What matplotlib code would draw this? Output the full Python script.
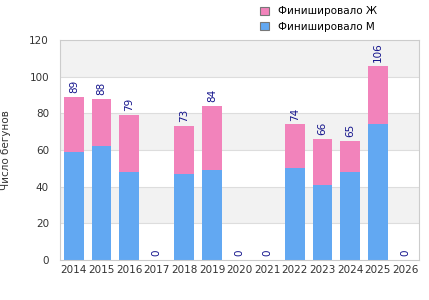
import matplotlib
matplotlib.use("Agg")
import matplotlib.pyplot as plt
from matplotlib.patches import Patch
import numpy as np

years = ["2014", "2015", "2016", "2017", "2018", "2019", "2020", "2021", "2022", "2023", "2024", "2025", "2026"]
men = [59, 62, 48, 0, 47, 49, 0, 0, 50, 41, 48, 74, 0]
totals = [89, 88, 79, 0, 73, 84, 0, 0, 74, 66, 65, 106, 0]
women = [t - m for t, m in zip(totals, men)]

plt.rcParams['font.family'] = ['DejaVu Sans']
fig = plt.figure(figsize=(4.29, 3.0), dpi=100)
ax = fig.add_axes([0.14, 0.133, 0.837, 0.734])

x = np.arange(len(years))
# alternating bands
for lo in (20, 60, 100):
    ax.axhspan(lo, lo + 20, color='#f2f2f2', zorder=0, lw=0)
for yv in range(20, 120, 20):
    ax.axhline(yv, color='#dddddd', lw=0.8, zorder=0.5)

c_m = '#62a8f2'
c_f = '#f283bb'
ax.bar(x, men, width=0.72, color=c_m, zorder=2)
ax.bar(x, women, width=0.72, bottom=men, color=c_f, zorder=2)

for xi, t in zip(x, totals):
    ax.text(xi, t + 2, str(t), rotation=90, ha='center', va='bottom',
            fontsize=7.5, color='#14148c', zorder=3)

ax.set_xlim(-0.5, len(years) - 0.5)
ax.set_ylim(0, 120)
ax.set_yticks(range(0, 121, 20))
ax.set_xticks(x)
ax.set_xticklabels(years)
ax.tick_params(axis='both', length=0, labelsize=7.5, colors='#333333')
ax.tick_params(axis='y', pad=8)
for s in ax.spines.values():
    s.set_color('#cccccc')
    s.set_linewidth(0.8)

fig.text(0.002, 0.5, 'Число бегунов', rotation=90, va='center', ha='left',
         fontsize=7.5, color='#333333')

handles = [Patch(facecolor=c_f, edgecolor='#777777', lw=0.8),
           Patch(facecolor=c_m, edgecolor='#777777', lw=0.8)]
fig.legend(handles, ['Финишировало Ж', 'Финишировало М'],
           loc='upper left', bbox_to_anchor=(0.585, 1.01), frameon=False,
           fontsize=7.5, handlelength=0.8, handleheight=0.8,
           handletextpad=0.9, labelspacing=0.5)

fig.savefig('out.png', dpi=100)
